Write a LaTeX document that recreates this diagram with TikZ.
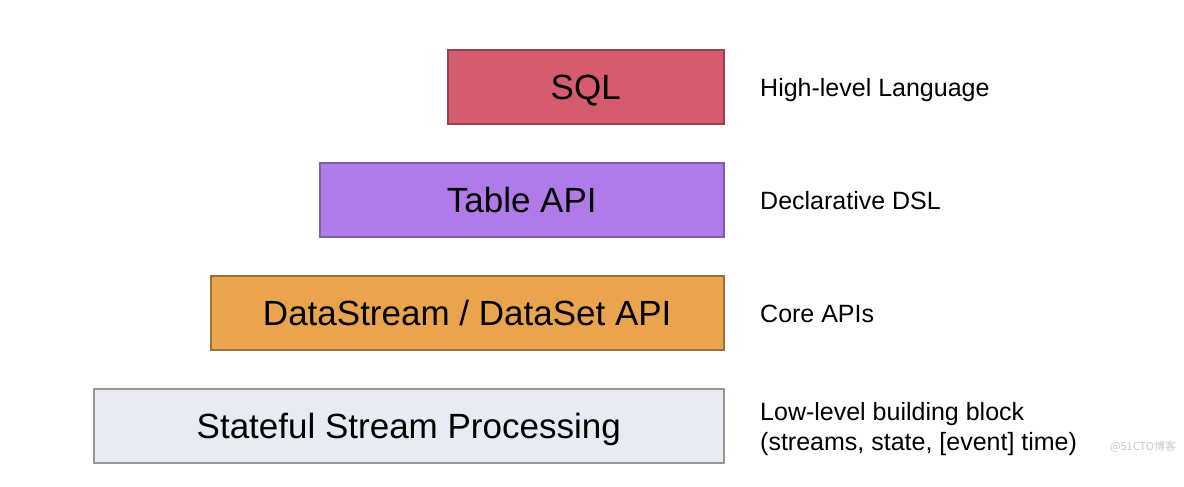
\documentclass[tikz,border=0pt]{standalone}
\usepackage{fontspec}
\setmainfont{Liberation Sans}
\newfontfamily\cjkfont{Noto Sans CJK SC}
\usetikzlibrary{positioning}
\definecolor{myRed}{RGB}{213,92,110}
\definecolor{myRedLine}{RGB}{150,66,80}
\definecolor{myPurple}{RGB}{176,122,232}
\definecolor{myPurpleLine}{RGB}{128,96,160}
\definecolor{myOrange}{RGB}{235,164,78}
\definecolor{myOrangeLine}{RGB}{156,112,55}
\definecolor{myBlue}{RGB}{231,235,243}
\definecolor{myBlueLine}{RGB}{150,150,150}
\definecolor{myGray}{RGB}{200,200,200}

\begin{document}
\begin{tikzpicture}[%
    x=1pt, y=-1pt,
    layer/.style={
        anchor=west,
        minimum height=74pt,
        line width=1.5pt,
        font=\fontsize{35}{42}\selectfont,
        % center on the capitals
        text height=25pt,
        text depth=0pt,
        inner sep=0pt,
    },
    label/.style={
        anchor=west,
        inner sep=0pt,
        font=\fontsize{25}{30}\selectfont,
        text height=18pt,
        text depth=0pt,
    },
]
\useasboundingbox (0,0) rectangle (1184,487);

% place layer boxes
\node[layer, fill=myRed, draw=myRedLine, minimum width=276pt] (sql) at (447,87) {SQL};
\node[layer, fill=myPurple, draw=myPurpleLine, minimum width=404pt] (table) at (319,200) {Table API};
\node[layer, fill=myOrange, draw=myOrangeLine, minimum width=513pt] (stream) at (210,313) {DataStream / DataSet API};
\node[layer, fill=myBlue, draw=myBlueLine, minimum width=630pt] (state) at (93,426) {Stateful Stream Processing};

% place level labels
\node[label] (sqllabel) at (760,87) {High-level Language};
\node[label] (tablelabel) at (760,200) {Declarative DSL};
\node[label] (streamlabel) at (760,313) {Core APIs};
\node[label] (statelabel) at (760,411) {Low-level building block};
\node[label] (statelabel2) at (760,441) {(streams, state, [event] time)};

% place watermark
\node[anchor=west, inner sep=0pt, text=myGray, font=\cjkfont\fontsize{11}{13}\selectfont] (mark) at (1110,447) {@51CTO博客};

\end{tikzpicture}
\end{document}
